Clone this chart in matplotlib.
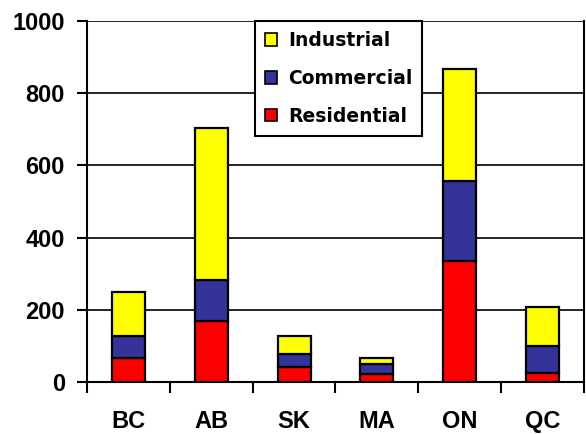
import numpy as np
import matplotlib
matplotlib.use("Agg")
import matplotlib.pyplot as plt
from matplotlib.patches import Patch

regions = ["BC", "AB", "SK", "MA", "ON", "QC"]
residential = [66, 170, 42, 22, 336, 26]
commercial = [60, 112, 35, 27, 221, 74]
industrial = [122, 420, 50, 17, 309, 108]

COLORS = {"Residential": "#FF0000", "Commercial": "#333399", "Industrial": "#FFFF00"}

plt.rcParams["font.family"] = ["Liberation Sans", "DejaVu Sans"]

fig = plt.figure(figsize=(5.86, 4.34), dpi=100)
ax = fig.add_axes([0.1485, 0.1198, 0.848, 0.8322])

x = np.arange(len(regions))
res = np.array(residential)
com = np.array(commercial)
ind = np.array(industrial)
bw = 0.4
kw = dict(width=bw, edgecolor="black", linewidth=1.6, zorder=3)
ax.bar(x, res, color=COLORS["Residential"], **kw)
ax.bar(x, com, bottom=res, color=COLORS["Commercial"], **kw)
ax.bar(x, ind, bottom=res + com, color=COLORS["Industrial"], **kw)

ax.set_xlim(-0.5, len(regions) - 0.5)
ax.set_ylim(0, 1000)
ax.set_yticks(np.arange(0, 1001, 200))
ax.yaxis.grid(True, color="black", linewidth=1.2, zorder=0)
ax.set_axisbelow(True)

# category labels centered, ticks between categories
ax.set_xticks(np.arange(-0.5, len(regions), 1.0))
ax.set_xticklabels([])
ax.set_xticks(x, minor=True)
ax.set_xticklabels(regions, minor=True, fontsize=17, fontweight="bold")
ax.tick_params(axis="x", which="minor", length=0, pad=20)
ax.tick_params(axis="x", which="major", length=8, width=1.5, direction="out")
ax.tick_params(axis="y", length=7, width=1.5, labelsize=17, pad=9)
for lbl in ax.get_yticklabels():
    lbl.set_fontweight("bold")

for s in ["left", "bottom", "top", "right"]:
    ax.spines[s].set_linewidth(1.5)
ax.spines["top"].set_visible(False)

handles = [Patch(facecolor=COLORS[k], edgecolor="black", linewidth=1.2, label=k)
           for k in ["Industrial", "Commercial", "Residential"]]
leg = ax.legend(handles=handles, loc="upper left", bbox_to_anchor=(0.338, 1.0),
                borderaxespad=0, fancybox=False, framealpha=1, edgecolor="black",
                prop={"family": "DejaVu Sans", "size": 13.5, "weight": "bold"},
                handlelength=0.65, handleheight=0.65, handletextpad=0.55,
                labelspacing=1.0, borderpad=0.55)
leg.get_frame().set_linewidth(1.5)
leg.set_zorder(5)

fig.savefig("out.png", dpi=100)
